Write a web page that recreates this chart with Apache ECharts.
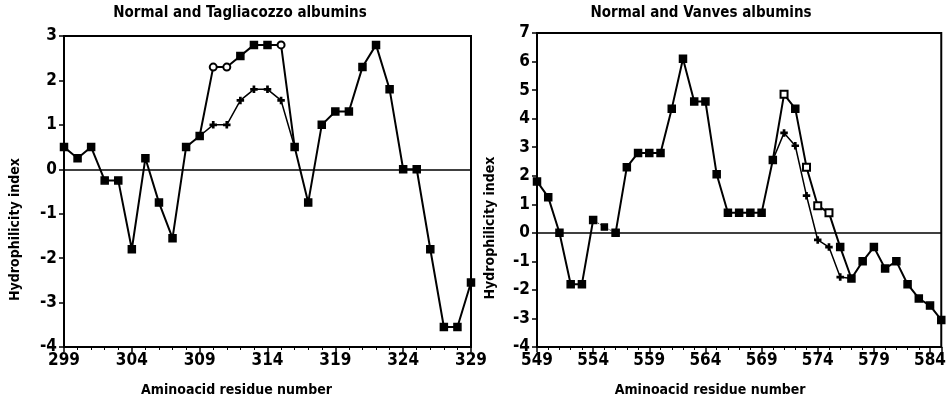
<!DOCTYPE html>
<html>
<head>
<meta charset="utf-8">
<script src="https://cdn.jsdelivr.net/npm/echarts@6/dist/echarts.min.js"></script>
<style>
  html, body { margin: 0; padding: 0; background: #fff; }
  #main { width: 949px; height: 405px; }
</style>
</head>
<body>
<div id="main"></div>
<script>
// Left panel: Normal and Tagliacozzo albumins
const leftResidues = [299, 300, 301, 302, 303, 304, 305, 306, 307, 308, 309, 310, 311, 312, 313, 314,
  315, 316, 317, 318, 319, 320, 321, 322, 323, 324, 325, 326, 327, 328, 329];
const leftUpper = [0.5, 0.25, 0.5, -0.25, -0.25, -1.8, 0.25, -0.75, -1.55, 0.5, 0.75, 2.3, 2.3, 2.55, 2.8, 2.8,
  2.8, 0.5, -0.75, 1.0, 1.3, 1.3, 2.3, 2.8, 1.8, 0, 0, -1.8, -3.55, -3.55, -2.55];
const leftLowerResidues = [309, 310, 311, 312, 313, 314, 315, 316];
const leftLower = [0.75, 1.0, 1.0, 1.55, 1.8, 1.8, 1.55, 0.5];
const leftOpen = [310, 311, 315];

// Right panel: Normal and Vanves albumins
const rightResidues = [549, 550, 551, 552, 553, 554, 555, 556, 557, 558, 559, 560, 561, 562, 563, 564,
  565, 566, 567, 568, 569, 570, 571, 572, 573, 574, 575, 576, 577, 578, 579, 580, 581, 582, 583, 584, 585];
const rightUpper = [1.8, 1.25, 0, -1.8, -1.8, 0.45, 0.2, 0, 2.3, 2.8, 2.8, 2.8, 4.35, 6.1, 4.6, 4.6,
  2.05, 0.7, 0.7, 0.7, 0.7, 2.55, 4.85, 4.35, 2.3, 0.95, 0.7, -0.5, -1.6, -1.0, -0.5, -1.25, -1.0, -1.8, -2.3, -2.55, -3.05];
const rightLowerResidues = [570, 571, 572, 573, 574, 575, 576, 577];
const rightLower = [2.55, 3.5, 3.05, 1.3, -0.25, -0.5, -1.55, -1.6];
const rightOpen = [571, 573, 574, 575];
const rightDotted = [554, 555, 556];

const tickFont = "'Liberation Sans Narrow', 'DejaVu Sans Condensed', sans-serif";
const textFont = "'DejaVu Sans Condensed', 'DejaVu Sans', sans-serif";
const plus = 'path://M4,0H6V4H10V6H6V10H4V6H0V4H4Z';

function upperData(residues, values, open, emptySymbol, skip) {
  return residues.map((r, i) => {
    if (skip && skip.includes(r)) return [r, '-'];
    if (open.includes(r)) return { value: [r, values[i]], symbol: emptySymbol };
    return [r, values[i]];
  });
}

function lowerData(residues, values) {
  return residues.map((r, i) => {
    const last = i === 0 || i === residues.length - 1;
    return { value: [r, values[i]], symbol: last ? 'none' : plus };
  });
}

function xAxis(idx, min, max, name, shift) {
  return {
    type: 'value', gridIndex: idx, min: min, max: max, interval: 5,
    axisLine: { onZero: false, lineStyle: { color: '#000', width: 2 } },
    axisTick: { length: 5, lineStyle: { color: '#000', width: 1.5 } },
    minorTick: { show: true, splitNumber: 5, length: 3, lineStyle: { color: '#000', width: 1 } },
    splitLine: { show: false },
    axisLabel: { color: '#000', fontFamily: tickFont, fontSize: 17, fontWeight: 'bold', margin: 5,
      showMaxLabel: idx === 0 },
    name: name, nameLocation: 'middle', nameGap: 36,
    nameTextStyle: { color: '#000', fontFamily: textFont, fontSize: 14, fontWeight: 'bold',
      padding: [0, shift, 0, 0] }
  };
}

function yAxis(idx, min, max, gap) {
  return {
    type: 'value', gridIndex: idx, min: min, max: max, interval: 1,
    axisLine: { lineStyle: { color: '#000', width: 2 } },
    axisTick: { length: 5, lineStyle: { color: '#000', width: 1.5 } },
    splitLine: { show: false },
    axisLabel: { color: '#000', fontFamily: tickFont, fontSize: 17, fontWeight: 'bold', margin: 7 },
    name: 'Hydrophilicity index', nameLocation: 'middle', nameGap: gap,
    nameTextStyle: { color: '#000', fontFamily: textFont, fontSize: 14, fontWeight: 'bold',
      padding: [0, 76, 0, 0] }
  };
}

const lineBase = {
  type: 'line',
  lineStyle: { color: '#000', width: 2 },
  itemStyle: { color: '#000', borderColor: '#000', borderWidth: 1.5 },
  symbol: 'rect',
  symbolSize: 7,
  connectNulls: false
};

const zeroLine = {
  silent: true, symbol: 'none', label: { show: false },
  lineStyle: { color: '#000', width: 1.5, type: 'solid' },
  data: [{ yAxis: 0 }]
};

const option = {
  animation: false,
  backgroundColor: '#fff',
  title: [
    { text: 'Normal and Tagliacozzo albumins', left: 240, top: 6, textAlign: 'center', padding: 0,
      textStyle: { color: '#000', fontFamily: textFont, fontSize: 15, fontWeight: 'bold' } },
    { text: 'Normal and Vanves albumins', left: 701, top: 6, textAlign: 'center', padding: 0,
      textStyle: { color: '#000', fontFamily: textFont, fontSize: 15, fontWeight: 'bold' } }
  ],
  grid: [
    { left: 64, top: 36, width: 407, height: 311, show: true, borderColor: '#000', borderWidth: 2 },
    { left: 537, top: 33, width: 407, height: 314, show: true, borderColor: '#000', borderWidth: 2 }
  ],
  xAxis: [
    xAxis(0, 299, 329, 'Aminoacid residue number', 62),
    xAxis(1, 549, 585, 'Aminoacid residue number', 58)
  ],
  yAxis: [
    yAxis(0, -4, 3, 42),
    yAxis(1, -4, 7, 40)
  ],
  series: [
    Object.assign({}, lineBase, {
      name: 'Normal', xAxisIndex: 0, yAxisIndex: 0,
      data: upperData(leftResidues, leftUpper, leftOpen, 'emptyCircle'),
      markLine: zeroLine, z: 3
    }),
    Object.assign({}, lineBase, {
      name: 'Tagliacozzo', xAxisIndex: 0, yAxisIndex: 0, symbolSize: 6,
      lineStyle: { color: '#000', width: 1.5 },
      data: lowerData(leftLowerResidues, leftLower), z: 2
    }),
    Object.assign({}, lineBase, {
      name: 'Normal', xAxisIndex: 1, yAxisIndex: 1,
      data: upperData(rightResidues, rightUpper, rightOpen, 'emptyRect', [555]),
      markLine: zeroLine, z: 3
    }),
    Object.assign({}, lineBase, {
      name: 'Normal (dotted)', xAxisIndex: 1, yAxisIndex: 1, symbolSize: 6,
      lineStyle: { color: '#000', width: 1, type: 'dotted' },
      data: rightDotted.map(r => [r, rightUpper[rightResidues.indexOf(r)]]), z: 2
    }),
    Object.assign({}, lineBase, {
      name: 'Vanves', xAxisIndex: 1, yAxisIndex: 1, symbolSize: 6,
      lineStyle: { color: '#000', width: 1.5 },
      data: lowerData(rightLowerResidues, rightLower), z: 2
    })
  ]
};

const chart = echarts.init(document.getElementById('main'));
chart.setOption(option);
</script>
</body>
</html>
